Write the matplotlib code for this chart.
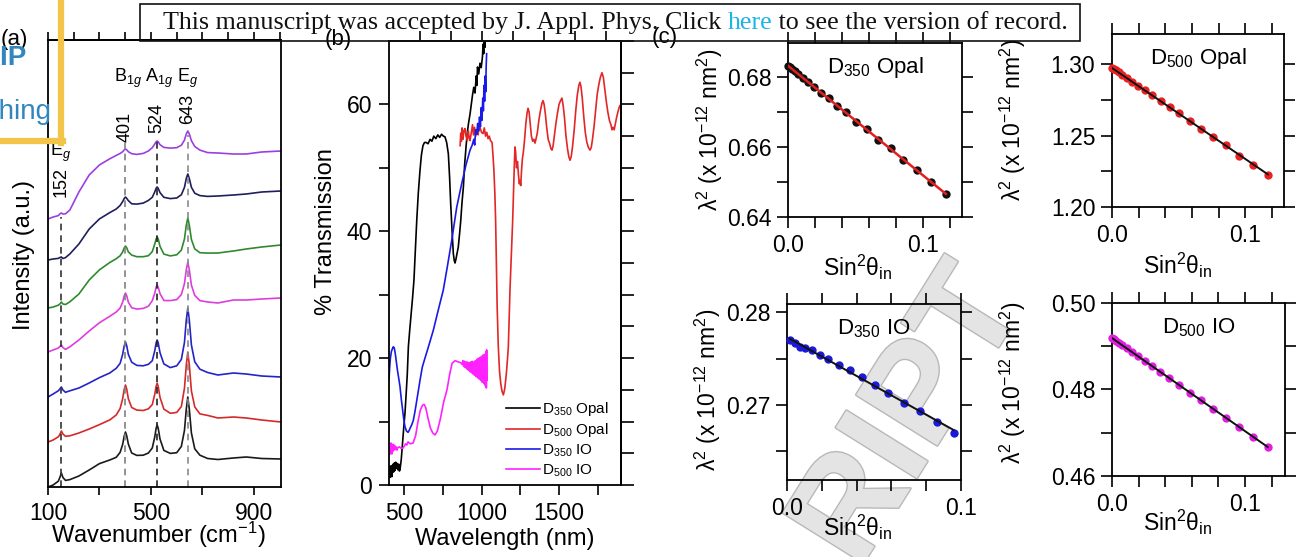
"""
Raman spectra, transmission spectra and Bragg fits (three-panel figure).
"""

import matplotlib
matplotlib.use("Agg")
import matplotlib.pyplot as plt
import matplotlib.patheffects as pe
import numpy as np
from matplotlib.lines import Line2D
from matplotlib.ticker import FixedLocator, NullFormatter

plt.rcParams["font.family"] = ["Liberation Sans", "DejaVu Sans"]
plt.rcParams["mathtext.fontset"] = "custom"
plt.rcParams["mathtext.rm"] = "Liberation Sans"
plt.rcParams["mathtext.it"] = "Liberation Sans:italic"
plt.rcParams["mathtext.bf"] = "Liberation Sans:bold"
plt.rcParams["axes.linewidth"] = 1.3

# ---------------------------------------------------------------- panel (a)
RAMAN_X = [100, 120, 140, 146, 152, 158, 168, 185, 220, 260,
           300, 340, 365, 380, 390, 396, 401, 406, 412, 425,
           445, 470, 490, 505, 515, 520, 524, 528, 535, 550,
           575, 600, 618, 630, 637, 643, 649, 657, 670, 690,
           720, 760, 820, 870, 930, 1005]
RAMAN_BLACK = [0, 2, 5.8, 9.5, 14, 9.5, 6.6, 7.4, 11, 17,
               23.4, 27, 29.7, 34.6, 42.6, 51, 55, 51, 43, 34,
               31.6, 31.8, 34, 39, 50.5, 58.8, 62, 58.8, 48, 36.6,
               33.6, 34.3, 40.6, 56.5, 77.6, 90, 77.6, 54, 38.2, 31.8,
               28.5, 27.5, 29, 30, 28.5, 28]
RAMAN_RED = [45, 47, 50.2, 52.5, 56, 53, 50.7, 51.2, 54, 58,
             62.4, 67.1, 72, 78.4, 88.3, 97.6, 102, 97.6, 88.3, 79.5,
             76.9, 76.5, 78.2, 82.4, 93.1, 100.7, 104, 100.7, 89.7, 77.9,
             73.7, 74.6, 80.5, 98.8, 121.6, 135, 121.6, 96.1, 80.1, 73.1,
             71.6, 69, 70, 69, 67, 65]
RAMAN_BLUE = [90, 93, 96.2, 98, 100, 97, 94.7, 96.2, 99, 104,
              109.4, 114, 118.7, 123.6, 132.7, 141, 145, 141, 132.7, 124.8,
              121.6, 121.2, 122.7, 126.3, 136.6, 144.1, 147, 144.1, 134.4, 123.1,
              119.4, 121.2, 127.6, 144.5, 166.6, 179, 166.6, 142, 125.2, 117.8,
              114.5, 112, 114, 113, 111, 110]
RAMAN_MAGENTA = [135, 137, 139, 140.5, 142, 139.5, 137.6, 140.2, 147, 156,
                 164.3, 170.7, 175, 178.9, 184.9, 191, 194, 191, 184.9, 179.3,
                 177.9, 178.6, 180.8, 186.3, 194.1, 199.8, 202, 199.8, 193.4, 186.5,
                 186.4, 187.4, 192.5, 203.4, 217, 225, 217, 201.8, 191.6, 186.4,
                 185, 184, 187, 187, 188, 189]
RAMAN_GREEN = [179, 180, 181.8, 183, 185, 183, 182.5, 185.2, 193, 207,
               217.2, 224.5, 228.3, 231.2, 235.1, 239.1, 241, 239.1, 235.1, 231.9,
               230.3, 230.3, 231.3, 235.4, 243.2, 248.1, 250, 248.1, 240.7, 232.9,
               231.1, 232.2, 236.9, 248, 261.6, 269, 261.6, 247.5, 238.1, 234.3,
               233.9, 234, 236, 238, 240, 242]
RAMAN_NAVY = [227, 228, 228.6, 229.5, 230, 228.5, 229.4, 233.1, 243, 258,
              268.1, 274.4, 278, 281.5, 285.4, 288.5, 290, 288.5, 286.4, 283.2,
              282.9, 283.9, 286.6, 289.7, 295.3, 298.7, 300, 298.7, 294.4, 289.7,
              288.4, 289, 292.3, 299.6, 308.4, 313, 308.4, 299.7, 293.8, 291.4,
              290.6, 291, 292, 293, 295, 296]
RAMAN_PURPLE = [268, 270, 271.4, 273, 274, 273, 273.2, 277, 295, 312,
                322.1, 328.2, 331.6, 333.5, 335.3, 337.1, 338, 337.1, 335.3, 333.3,
                332.6, 333.6, 336, 339.3, 343.1, 345.2, 346, 345.2, 342.3, 339.6,
                338.9, 339.3, 341.8, 346.9, 353, 356, 353, 346.3, 340.5, 336.9,
                334.4, 334, 333, 333, 335, 336]
RAMAN_TRACES = [
    (RAMAN_BLACK, "#1a1a1a"),
    (RAMAN_RED, "#d42a2a"),
    (RAMAN_BLUE, "#2424c8"),
    (RAMAN_MAGENTA, "#dd3ddd"),
    (RAMAN_GREEN, "#2f8a2f"),
    (RAMAN_NAVY, "#1f1f5c"),
    (RAMAN_PURPLE, "#9b40e0"),
]
MODE_POS = [152, 401, 524, 643]
MODE_TOP = [270, 344, 345, 352]
MODE_COLORS = ["#333333", "#808080", "#222222", "#8a8a8a"]

# ---------------------------------------------------------------- panel (b)
D350_OPAL_T = [
    (403, 1.5), (406, 2.8), (409, 1.2), (412, 3.0), (415, 1.8), (418, 2.6), (421, 1.3),
    (424, 3.1), (427, 2.0), (430, 3.3), (434, 2.1), (438, 3.5), (442, 2.3), (446, 3.6),
    (450, 2.6), (455, 3.4), (460, 2.4), (465, 3.3), (470, 2.2), (474, 2.4), (482, 4.0),
    (490, 6.5), (498, 9.0), (506, 11.3), (514, 14.5), (521, 17.5), (528, 21.8),
    (537, 24.5), (546, 27.0), (555, 29.5), (564, 32.3), (573, 37.0), (582, 41.7),
    (592, 46.0), (603, 49.6), (612, 52.0), (622, 53.5), (632, 54.0), (643, 54.0),
    (655, 53.8), (668, 54.5), (680, 54.2), (692, 55.0), (705, 54.6), (718, 55.2),
    (730, 54.8), (742, 55.3), (754, 55.0), (764, 54.9), (775, 54.0), (786, 52.2),
    (794, 48.5), (801, 44.4), (810, 40.0), (818, 36.5), (824, 35.4), (829, 35.0),
    (835, 35.6), (842, 36.5), (850, 37.5), (858, 39.5), (866, 41.7), (874, 44.5),
    (883, 47.0), (891, 50.5), (900, 53.3), (908, 55.5), (916, 57.0), (926, 58.5),
    (934, 60.0), (942, 61.5), (950, 62.7), (958, 61.8), (966, 64.5), (970, 63.0),
    (974, 65.9), (982, 64.8), (990, 66.5), (998, 65.8), (1006, 67.5), (1010, 69.5),
    (1014, 68.0), (1018, 71.0), (1022, 69.0), (1026, 72.0), (1030, 70.5), (1035, 72.0),
]
D500_OPAL_T = [
    (862, 53.5), (866, 55.5), (870, 54.2), (875, 56.3), (880, 54.5), (886, 55.8),
    (893, 56.2), (900, 55.0), (908, 54.3), (915, 55.8), (920, 54.8), (926, 54.3),
    (934, 55.6), (942, 56.8), (948, 55.2), (955, 56.4), (962, 55.0), (971, 56.0),
    (978, 55.2), (985, 56.8), (992, 56.2), (1000, 55.6), (1010, 55.4), (1018, 56.3),
    (1026, 55.0), (1034, 55.6), (1042, 54.6), (1050, 55.0), (1058, 54.3), (1068, 54.0),
    (1074, 52.0), (1080, 49.6), (1086, 46.0), (1091, 41.7), (1096, 35.0), (1101, 28.0),
    (1108, 22.0), (1116, 18.0), (1124, 16.0), (1132, 14.8), (1141, 14.2), (1150, 15.2),
    (1160, 17.5), (1168, 20.0), (1173, 21.8), (1178, 26.0), (1184, 31.0), (1192, 36.0),
    (1201, 41.7), (1208, 47.5), (1213, 51.5), (1216, 53.3), (1220, 52.5), (1226, 50.0),
    (1232, 51.0), (1238, 49.0), (1244, 47.5), (1248, 48.0), (1253, 47.2), (1258, 49.5),
    (1264, 51.5), (1270, 52.5), (1278, 54.5), (1286, 57.0), (1293, 58.5), (1300, 59.4),
    (1307, 58.8), (1314, 57.0), (1322, 55.0), (1330, 54.2), (1338, 54.5), (1345, 53.9),
    (1352, 54.6), (1360, 55.5), (1370, 57.5), (1380, 59.0), (1390, 60.2), (1397, 60.6),
    (1404, 60.0), (1412, 58.5), (1420, 56.5), (1430, 54.5), (1440, 53.8), (1448, 53.0),
    (1455, 52.8), (1462, 53.5), (1470, 55.0), (1480, 57.0), (1490, 58.6), (1500, 60.0),
    (1510, 60.6), (1519, 61.0), (1527, 59.8), (1535, 58.0), (1545, 55.0), (1555, 53.0),
    (1563, 51.8), (1571, 51.2), (1579, 51.8), (1588, 53.5), (1598, 56.0), (1608, 59.0),
    (1618, 61.5), (1628, 63.0), (1635, 63.5), (1642, 62.8), (1650, 61.0), (1660, 58.0),
    (1670, 55.5), (1680, 54.0), (1690, 53.2), (1700, 52.8), (1708, 53.2), (1716, 54.5),
    (1726, 56.5), (1736, 59.0), (1746, 61.5), (1756, 63.0), (1766, 64.2), (1777, 65.0),
    (1786, 64.3), (1795, 62.5), (1805, 60.5), (1815, 58.8), (1825, 57.5), (1835, 56.8),
    (1842, 56.0), (1848, 56.4), (1856, 56.0), (1864, 57.0), (1872, 58.0), (1880, 58.8),
    (1888, 59.5), (1893, 59.8), (1900, 60.0),
]
D350_IO_T = [
    (403, 16.5), (407, 18.5), (412, 20.0), (418, 21.0), (425, 21.5), (431, 21.8),
    (437, 21.6), (443, 20.8), (450, 19.5), (458, 18.0), (466, 16.8), (474, 15.5),
    (482, 13.6), (490, 12.0), (498, 10.4), (506, 9.2), (516, 8.5), (526, 8.3),
    (533, 8.6), (540, 9.0), (550, 9.5), (560, 10.2), (570, 11.5), (580, 13.0),
    (592, 14.8), (603, 16.5), (618, 18.6), (635, 20.0), (660, 22.0), (689, 24.4),
    (720, 27.5), (753, 30.7), (780, 34.5), (808, 38.6), (840, 43.8), (872, 47.5),
    (900, 50.5), (926, 52.8), (940, 53.6), (950, 54.5), (956, 53.6), (962, 56.0),
    (969, 55.3), (975, 57.0), (981, 55.8), (987, 58.0), (993, 56.5), (998, 59.5),
    (1003, 57.5), (1008, 61.0), (1012, 59.0), (1016, 63.0), (1020, 60.5), (1024, 64.5),
    (1027, 62.0), (1030, 66.0), (1033, 68.0),
]
D500_IO_T = [
    (403, 5.5), (405, 6.4), (407, 4.8), (409, 6.6), (411, 5.0), (413, 6.5), (415, 5.2),
    (418, 6.6), (421, 4.9), (424, 6.1), (427, 5.3), (431, 6.4), (435, 5.5), (440, 6.2),
    (445, 5.6), (450, 6.0), (455, 5.5), (460, 5.9), (470, 6.0), (480, 5.8), (493, 5.8),
    (503, 6.2), (510, 6.5), (518, 6.3), (526, 6.8), (540, 6.5), (558, 6.6), (575, 7.8),
    (590, 10.0), (605, 11.8), (620, 12.6), (630, 12.7), (640, 12.2), (655, 10.5),
    (670, 9.0), (685, 8.2), (700, 7.9), (715, 8.5), (735, 10.5), (755, 13.0),
    (777, 15.0), (795, 17.5), (810, 19.2), (830, 19.6), (850, 19.4), (865, 19.3),
    (875, 19.0), (880, 19.6), (885, 18.7), (890, 19.5), (895, 18.5), (900, 19.4),
    (905, 18.3), (910, 19.4), (915, 18.1), (920, 19.3), (925, 17.9), (930, 19.4),
    (935, 17.7), (940, 19.5), (945, 17.5), (950, 19.4), (955, 17.3), (960, 19.6),
    (965, 17.1), (970, 19.8), (975, 16.9), (980, 20.0), (985, 16.7), (990, 20.1),
    (995, 16.5), (1000, 20.3), (1005, 16.2), (1010, 20.5), (1015, 16.0), (1020, 20.6),
    (1024, 15.7), (1028, 21.0), (1031, 15.3), (1033, 21.3), (1035, 16.5),
]
TRANS_SERIES = [
    (D350_OPAL_T, "#000000", r"D$_{350}$ Opal"),
    (D500_OPAL_T, "#e32626", r"D$_{500}$ Opal"),
    (D350_IO_T, "#1a1ae6", r"D$_{350}$ IO"),
    (D500_IO_T, "#ff22ff", r"D$_{500}$ IO"),
]

# ---------------------------------------------------------------- panel (c)
SIN2_20 = [0.0003, 0.0012, 0.0027, 0.0049, 0.0076, 0.0109, 0.0149, 0.0194, 0.0245, 0.0302,
           0.0364, 0.0432, 0.0506, 0.0585, 0.0670, 0.0760, 0.0855, 0.0955, 0.1060, 0.1170]
LAM2_D350_OPAL = [0.6831, 0.6828, 0.6824, 0.6816, 0.6808, 0.6797, 0.6785, 0.6772, 0.6755,
                  0.6741, 0.6716, 0.6699, 0.6672, 0.6651, 0.6620, 0.6597, 0.6563, 0.6535,
                  0.6499, 0.6466]
LAM2_D500_OPAL = [1.2970, 1.2964, 1.2955, 1.2941, 1.2924, 1.2903, 1.2877, 1.2848, 1.2816,
                  1.2780, 1.2740, 1.2697, 1.2656, 1.2599, 1.2549, 1.2488, 1.2431, 1.2360,
                  1.2297, 1.2227]
SIN2_D350_IO = [0.0017, 0.0046, 0.0075, 0.0104, 0.0142, 0.0190, 0.0238, 0.0296, 0.0363,
                0.0430, 0.0507, 0.0583, 0.0670, 0.0766, 0.0862, 0.0958]
LAM2_D350_IO = [0.27702, 0.27666, 0.27630, 0.27612, 0.27594, 0.27540, 0.27493, 0.27432,
                0.27378, 0.27299, 0.27216, 0.27126, 0.27026, 0.26939, 0.26821, 0.26702]
LAM2_D500_IO = [0.4918, 0.4916, 0.4913, 0.4908, 0.4903, 0.4896, 0.4887, 0.4877, 0.4866,
                0.4854, 0.4841, 0.4826, 0.4810, 0.4793, 0.4775, 0.4755, 0.4735, 0.4713,
                0.4691, 0.4667]

W, H = 1304, 557
fig = plt.figure(figsize=(W / 100, H / 100), dpi=100)


def add_px_axes(left, top, right, bottom):
    return fig.add_axes([left / W, 1 - bottom / H, (right - left) / W, (bottom - top) / H])


def fig_text(x, y, s, **kw):
    return fig.text(x / W, 1 - y / H, s, **kw)


# ---------------------------------------------------------------- (a) Raman
ax_a = add_px_axes(48, 40, 281, 487)
for values, color in RAMAN_TRACES:
    ax_a.plot(RAMAN_X, values, color=color, lw=1.2)
for pos, top, color in zip(MODE_POS, MODE_TOP, MODE_COLORS):
    ax_a.plot([pos, pos], [0, top], color=color, lw=1.2, ls=(0, (4, 3)))
ax_a.set_xlim(100, 1005)
ax_a.set_ylim(0, 447)
ax_a.set_yticks([])
ax_a.set_xticks([100, 500, 900])
ax_a.xaxis.set_minor_locator(FixedLocator([300, 700]))
ax_a.tick_params(axis="x", which="both", direction="out", length=6, width=1.2,
                 labelsize=16.5, pad=5)
sec_a = ax_a.secondary_xaxis("top")
sec_a.set_xticks(list(range(100, 1001, 100)))
sec_a.xaxis.set_major_formatter(NullFormatter())
sec_a.tick_params(direction="out", length=6, width=1.2)

ax_a.text(152, 305, "152", rotation=90, ha="center", va="center", fontsize=13)
ax_a.text(150, 335, r"E$_g$", ha="center", va="center", fontsize=13)
ax_a.text(401, 360, "401", rotation=90, ha="center", va="center", fontsize=13)
ax_a.text(524, 369, "524", rotation=90, ha="center", va="center", fontsize=13)
ax_a.text(643, 378, "643", rotation=90, ha="center", va="center", fontsize=13)
ax_a.text(520, 409, r"B$_{1g}$ A$_{1g}$ E$_g$", ha="center", va="center", fontsize=13)
fig_text(158, 535, r"Wavenumber (cm$^{-1}$)", ha="center", va="center", fontsize=17)
fig_text(24, 255, "Intensity (a.u.)", rotation=90, ha="center", va="center", fontsize=17)

# ---------------------------------------------------------------- (b) transmission
ax_b = add_px_axes(389, 41, 621, 485)
handles = []
for pairs, color, label in TRANS_SERIES:
    arr = np.array(pairs)
    ax_b.plot(arr[:, 0], arr[:, 1], color=color, lw=1.2)
    handles.append(Line2D([], [], color=color, lw=1.2, label=label))
ax_b.set_xlim(403, 1900)
ax_b.set_ylim(0, 70)
ax_b.set_xticks([500, 1000, 1500])
ax_b.xaxis.set_minor_locator(FixedLocator([750, 1250, 1750]))
ax_b.set_yticks([0, 20, 40, 60])
ax_b.yaxis.set_minor_locator(FixedLocator([10, 30, 50]))
ax_b.tick_params(which="both", direction="out", length=7, width=1.2, labelsize=16.5, pad=5)
sec_bx = ax_b.secondary_xaxis("top")
sec_bx.set_xticks(list(range(400, 1801, 200)))
sec_bx.xaxis.set_major_formatter(NullFormatter())
sec_bx.tick_params(direction="out", length=7, width=1.2)
sec_by = ax_b.secondary_yaxis("right")
sec_by.set_yticks(list(range(0, 71, 5)))
sec_by.yaxis.set_major_formatter(NullFormatter())
sec_by.tick_params(direction="out", length=9, width=1.2)
ax_b.legend(handles=handles, loc="upper left", bbox_to_anchor=(506 / W, 1 - 400 / H),
            bbox_transform=fig.transFigure, frameon=False, fontsize=11,
            handlelength=2.2, handletextpad=0.15, labelspacing=0.22, borderpad=0,
            borderaxespad=0)
fig_text(505, 539, "Wavelength (nm)", ha="center", va="center", fontsize=17)
fig_text(326, 232, "% Transmission", rotation=90, ha="center", va="center", fontsize=17)

# ---------------------------------------------------------------- (c) Bragg fits
PANELS_C = [
    dict(box=(788, 43, 962, 217), x=SIN2_20, y=LAM2_D350_OPAL, dot="#111111",
         fit="#e02020", fit_lw=1.8, title=r"D$_{350}$ Opal", xlim=(0, 0.129),
         ylim=(0.64, 0.6897), yticks=[0.64, 0.66, 0.68], yminor=[0.65, 0.67],
         ylab=(710, 130), xlab=(858, 267)),
    dict(box=(1112, 34, 1284, 207), x=SIN2_20, y=LAM2_D500_OPAL, dot="#e82222",
         fit="#111111", fit_lw=1.4, title=r"D$_{500}$ Opal", xlim=(0, 0.129),
         ylim=(1.20, 1.321), yticks=[1.20, 1.25, 1.30], yminor=[1.225, 1.275],
         ylab=(1013, 120), xlab=(1178, 265)),
    dict(box=(787, 304, 961, 480), x=SIN2_D350_IO, y=LAM2_D350_IO, dot="#1a1ad8",
         fit="#111111", fit_lw=1.4, title=r"D$_{350}$ IO", xlim=(0, 0.1),
         ylim=(0.2619, 0.2809), yticks=[0.27, 0.28], yminor=[0.265, 0.275],
         ylab=(708, 390), xlab=(858, 527)),
    dict(box=(1112, 303, 1285, 476), x=SIN2_20, y=LAM2_D500_IO, dot="#e020e0",
         fit="#111111", fit_lw=1.4, title=r"D$_{500}$ IO", xlim=(0, 0.130),
         ylim=(0.46, 0.50), yticks=[0.46, 0.48, 0.50], yminor=[0.47, 0.49],
         ylab=(1013, 383), xlab=(1178, 522)),
]
for p in PANELS_C:
    ax = add_px_axes(*p["box"])
    ax.set_facecolor("none")
    xs = np.array(p["x"])
    ys = np.array(p["y"])
    ax.plot(xs, ys, "o", color=p["dot"], ms=6, mew=0, clip_on=False, zorder=3)
    slope, intercept = np.polyfit(xs, ys, 1)
    fit_x = np.array([0.0 if xs[0] < 0.001 else xs[0], xs[-1]])
    ax.plot(fit_x, intercept + slope * fit_x, color=p["fit"], lw=p["fit_lw"], zorder=4)
    ax.set_xlim(*p["xlim"])
    ax.set_ylim(*p["ylim"])
    ax.set_xticks([0.0, 0.1])
    ax.set_xticklabels(["0.0", "0.1"])
    ax.xaxis.set_minor_locator(FixedLocator([0.02, 0.04, 0.06, 0.08, 0.12]))
    ax.set_yticks(p["yticks"])
    ax.set_yticklabels(["{:.2f}".format(v) for v in p["yticks"]])
    ax.yaxis.set_minor_locator(FixedLocator(p["yminor"]))
    ax.tick_params(which="both", direction="out", top=True, right=True, length=8,
                   width=1.2, labelsize=16.5, pad=4)
    ax.text(0.5, 0.86, p["title"], transform=ax.transAxes, ha="center", va="center",
            fontsize=16)
    fig_text(p["ylab"][0], p["ylab"][1], "λ$^2$ (x 10$^{-12}$ nm$^2$)",
             rotation=90, ha="center", va="center", fontsize=16.5)
    fig_text(p["xlab"][0], p["xlab"][1], "Sin$^2$θ$_{\\rm in}$", ha="center",
             va="center", fontsize=16.5)

# ---------------------------------------------------------------- panel letters
fig_text(14, 40, "(a)", ha="center", va="center", fontsize=16)
fig_text(338, 40, "(b)", ha="center", va="center", fontsize=16)
fig_text(665, 38, "(c)", ha="center", va="center", fontsize=16)

# ---------------------------------------------------------------- page overlays
fig.patches.append(plt.Rectangle((140 / W, 1 - 41 / H), 940 / W, 37 / H, fill=False,
                                 edgecolor="#111111", lw=1.2, transform=fig.transFigure,
                                 zorder=10))
renderer = fig.canvas.get_renderer()
x_cursor = 163
for piece, color in [("This manuscript was accepted by J. Appl. Phys. Click ", "#111111"),
                     ("here", "#1eb4e6"),
                     (" to see the version of record.", "#111111")]:
    t = fig_text(x_cursor, 29, piece, ha="left", va="baseline", fontsize=18.7,
                 family="Liberation Serif", color=color, zorder=11)
    x_cursor += t.get_window_extent(renderer).width

fig.add_artist(Line2D([61 / W, 61 / W], [1.0, 1 - 143 / H], color="#f2c447", lw=4.5,
                      transform=fig.transFigure))
fig.add_artist(Line2D([0, 63 / W], [1 - 141 / H, 1 - 141 / H], color="#f2c447", lw=4.5,
                      transform=fig.transFigure))
fig_text(52, 112, "Publishing", ha="right", va="center", fontsize=20, color="#3286c0")
fig_text(27, 58, "AIP", ha="right", va="center", fontsize=20, color="#3286c0",
         fontweight="bold")

# faint watermark behind the panel (c) data
fig_text(912, 418, "RIPT", rotation=58, ha="center", va="center", fontsize=100,
         fontweight="bold", color="#e4e4e4", zorder=-1,
         path_effects=[pe.withStroke(linewidth=2.0, foreground="#b8b8b8")])

fig.savefig("out.png", dpi=100)
